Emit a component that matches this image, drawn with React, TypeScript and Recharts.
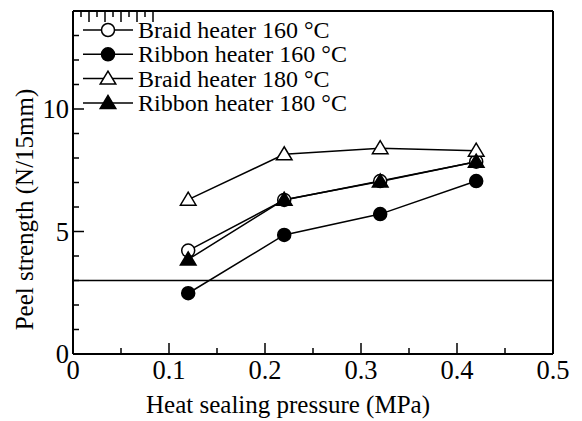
import React from "react";
import { LineChart, Line, XAxis, YAxis, ReferenceLine, Legend, Label } from "recharts";

// ---- data ----
const pressures = [0.12, 0.22, 0.32, 0.42];
const braid160 = [4.22, 6.29, 7.06, 7.85];
const ribbon160 = [2.48, 4.86, 5.71, 7.06];
const braid180 = [6.3, 8.15, 8.4, 8.3];
const ribbon180 = [3.86, 6.3, 7.04, 7.85];
const thresholdValue = 3;

const seriesNames = [
  "Braid heater 160 °C",
  "Ribbon heater 160 °C",
  "Braid heater 180 °C",
  "Ribbon heater 180 °C",
];

const xMajorTicks = [0, 0.1, 0.2, 0.3, 0.4, 0.5];
const xMinorTicks = [0.05, 0.15, 0.25, 0.35, 0.45];
const yMajorTicks = [0, 5, 10];
const yMinorTicks = [1, 2, 3, 4, 6, 7, 8, 9, 11, 12, 13];

const xTitle = "Heat sealing pressure (MPa)";
const yTitle = "Peel strength (N/15mm)";

const data = pressures.map((p, i) => ({
  p,
  b160: braid160[i],
  r160: ribbon160[i],
  b180: braid180[i],
  r180: ribbon180[i],
}));

type Shape = "circle" | "triangle";
const seriesDefs: { key: string; shape: Shape; filled: boolean }[] = [
  { key: "b160", shape: "circle", filled: false },
  { key: "r160", shape: "circle", filled: true },
  { key: "b180", shape: "triangle", filled: false },
  { key: "r180", shape: "triangle", filled: true },
];

const FONT = "'Liberation Serif', 'Times New Roman', serif";
const MAJOR_LEN = 11;
const MINOR_LEN = 6;
const TICK_FONT = 26.5;

const allX = [...xMajorTicks, ...xMinorTicks].sort((a, b) => a - b);
const allY = [...yMajorTicks, ...yMinorTicks].sort((a, b) => a - b);
const isMajor = (list: number[], v: number) => list.some((m) => Math.abs(m - v) < 1e-9);

function Marker({ cx, cy, shape, filled }: { cx: number; cy: number; shape: Shape; filled: boolean }) {
  const fill = filled ? "#000" : "#fff";
  if (shape === "circle") {
    return <circle cx={cx} cy={cy} r={6.5} fill={fill} stroke="#000" strokeWidth={1.5} />;
  }
  const pts = `${cx},${cy - 7.5} ${cx - 7.8},${cy + 5.5} ${cx + 7.8},${cy + 5.5}`;
  return <polygon points={pts} fill={fill} stroke="#000" strokeWidth={1.5} />;
}

const makeDot = (shape: Shape, filled: boolean, key: string) => (props: any) => {
  const { cx, cy, index } = props;
  if (cx == null || cy == null) return <g key={`${key}-${index}`} />;
  return (
    <g key={`${key}-${index}`}>
      <Marker cx={cx} cy={cy} shape={shape} filled={filled} />
    </g>
  );
};

const renderLegend = () => (
  <svg width={300} height={100} style={{ display: "block", overflow: "visible" }}>
    {seriesDefs.map((def, i) => {
      const cy = 12 + i * 24.3;
      return (
        <g key={`leg-${i}`}>
          <line x1={0} x2={50} y1={cy} y2={cy} stroke="#000" strokeWidth={1.5} />
          <Marker cx={25} cy={cy} shape={def.shape} filled={def.filled} />
          <text x={55} y={cy} dominantBaseline="central" fontSize={24} fontFamily={FONT} fill="#000">
            {seriesNames[i]}
          </text>
        </g>
      );
    })}
  </svg>
);

const BottomTick = (props: any) => {
  const { x, y, payload } = props;
  const major = isMajor(xMajorTicks, payload.value);
  const len = major ? MAJOR_LEN : MINOR_LEN;
  return (
    <g>
      <line x1={x} x2={x} y1={y} y2={y - len} stroke="#000" strokeWidth={1.5} />
      {major && (
        <text x={x} y={y + 25} textAnchor="middle" fontSize={TICK_FONT} fontFamily={FONT} fill="#000">
          {String(payload.value)}
        </text>
      )}
    </g>
  );
};

const TopTick = (props: any) => {
  const { x, y, payload } = props;
  const len = isMajor(xMajorTicks, payload.value) ? MAJOR_LEN : MINOR_LEN;
  return <line x1={x} x2={x} y1={y} y2={y + len} stroke="#000" strokeWidth={1.5} />;
};

const LeftTick = (props: any) => {
  const { x, y, payload } = props;
  const major = isMajor(yMajorTicks, payload.value);
  const len = major ? MAJOR_LEN : MINOR_LEN;
  return (
    <g>
      <line x1={x} x2={x + len} y1={y} y2={y} stroke="#000" strokeWidth={1.5} />
      {major && (
        <text x={x - 4} y={y} dy="0.34em" textAnchor="end" fontSize={TICK_FONT} fontFamily={FONT} fill="#000">
          {String(payload.value)}
        </text>
      )}
    </g>
  );
};

const RightTick = (props: any) => {
  const { x, y, payload } = props;
  const len = isMajor(yMajorTicks, payload.value) ? MAJOR_LEN : MINOR_LEN;
  return <line x1={x} x2={x - len} y1={y} y2={y} stroke="#000" strokeWidth={1.5} />;
};

const axisLineStyle = { stroke: "#000", strokeWidth: 2 };

export default function App() {
  return (
    <div style={{ position: "absolute", left: 0, top: 0, width: 582, height: 421, background: "#fff" }}>
      <LineChart width={582} height={421} data={data} margin={{ top: 10, right: 28, bottom: 66, left: 72 }}>
        <XAxis
          xAxisId="x"
          dataKey="p"
          type="number"
          domain={[0, 0.5]}
          ticks={allX}
          height={1}
          tickSize={0}
          tickMargin={0}
          tick={<BottomTick />}
          tickLine={false}
          axisLine={axisLineStyle}
          interval={0}
        >
          <Label
            content={(p: any) => {
              const vb = p.viewBox || { x: 73, width: 480, y: 354 };
              const cx = vb.x + vb.width / 2 - 25;
              return (
                <text x={cx} y={vb.y + 59} textAnchor="middle" fontSize={25} fontFamily={FONT} fill="#000">
                  {xTitle}
                </text>
              );
            }}
          />
        </XAxis>
        <XAxis
          xAxisId="xtop"
          orientation="top"
          type="number"
          domain={[0, 0.5]}
          ticks={allX}
          height={1}
          tickSize={0}
          tickMargin={0}
          tick={<TopTick />}
          tickLine={false}
          axisLine={axisLineStyle}
          interval={0}
        />
        <YAxis
          yAxisId="y"
          type="number"
          domain={[0, 14]}
          ticks={allY}
          width={1}
          tickSize={0}
          tickMargin={0}
          tick={<LeftTick />}
          tickLine={false}
          axisLine={axisLineStyle}
          interval={0}
        >
          <Label
            content={(p: any) => {
              const vb = p.viewBox || { y: 11, height: 343 };
              const cy = vb.y + vb.height / 2 + 27;
              const cx = 33;
              return (
                <text
                  x={cx}
                  y={cy}
                  transform={`rotate(-90 ${cx} ${cy})`}
                  textAnchor="middle"
                  fontSize={25}
                  fontFamily={FONT}
                  fill="#000"
                >
                  {yTitle}
                </text>
              );
            }}
          />
        </YAxis>
        <YAxis
          yAxisId="yright"
          orientation="right"
          type="number"
          domain={[0, 14]}
          ticks={allY}
          width={1}
          tickSize={0}
          tickMargin={0}
          tick={<RightTick />}
          tickLine={false}
          axisLine={axisLineStyle}
          interval={0}
        />

        <ReferenceLine xAxisId="x" yAxisId="y" y={thresholdValue} stroke="#000" strokeWidth={1.5} />

        {seriesDefs.map((s, i) => (
          <Line
            key={s.key}
            xAxisId="x"
            yAxisId="y"
            dataKey={s.key}
            name={seriesNames[i]}
            stroke="#000"
            strokeWidth={1.5}
            isAnimationActive={false}
            dot={makeDot(s.shape, s.filled, s.key)}
            activeDot={false}
            type="linear"
          />
        ))}

        <Legend
          layout="vertical"
          align="center"
          verticalAlign="middle"
          content={renderLegend}
          wrapperStyle={{ left: 83, top: 18, width: 300, height: 100 }}
        />
      </LineChart>
    </div>
  );
}
